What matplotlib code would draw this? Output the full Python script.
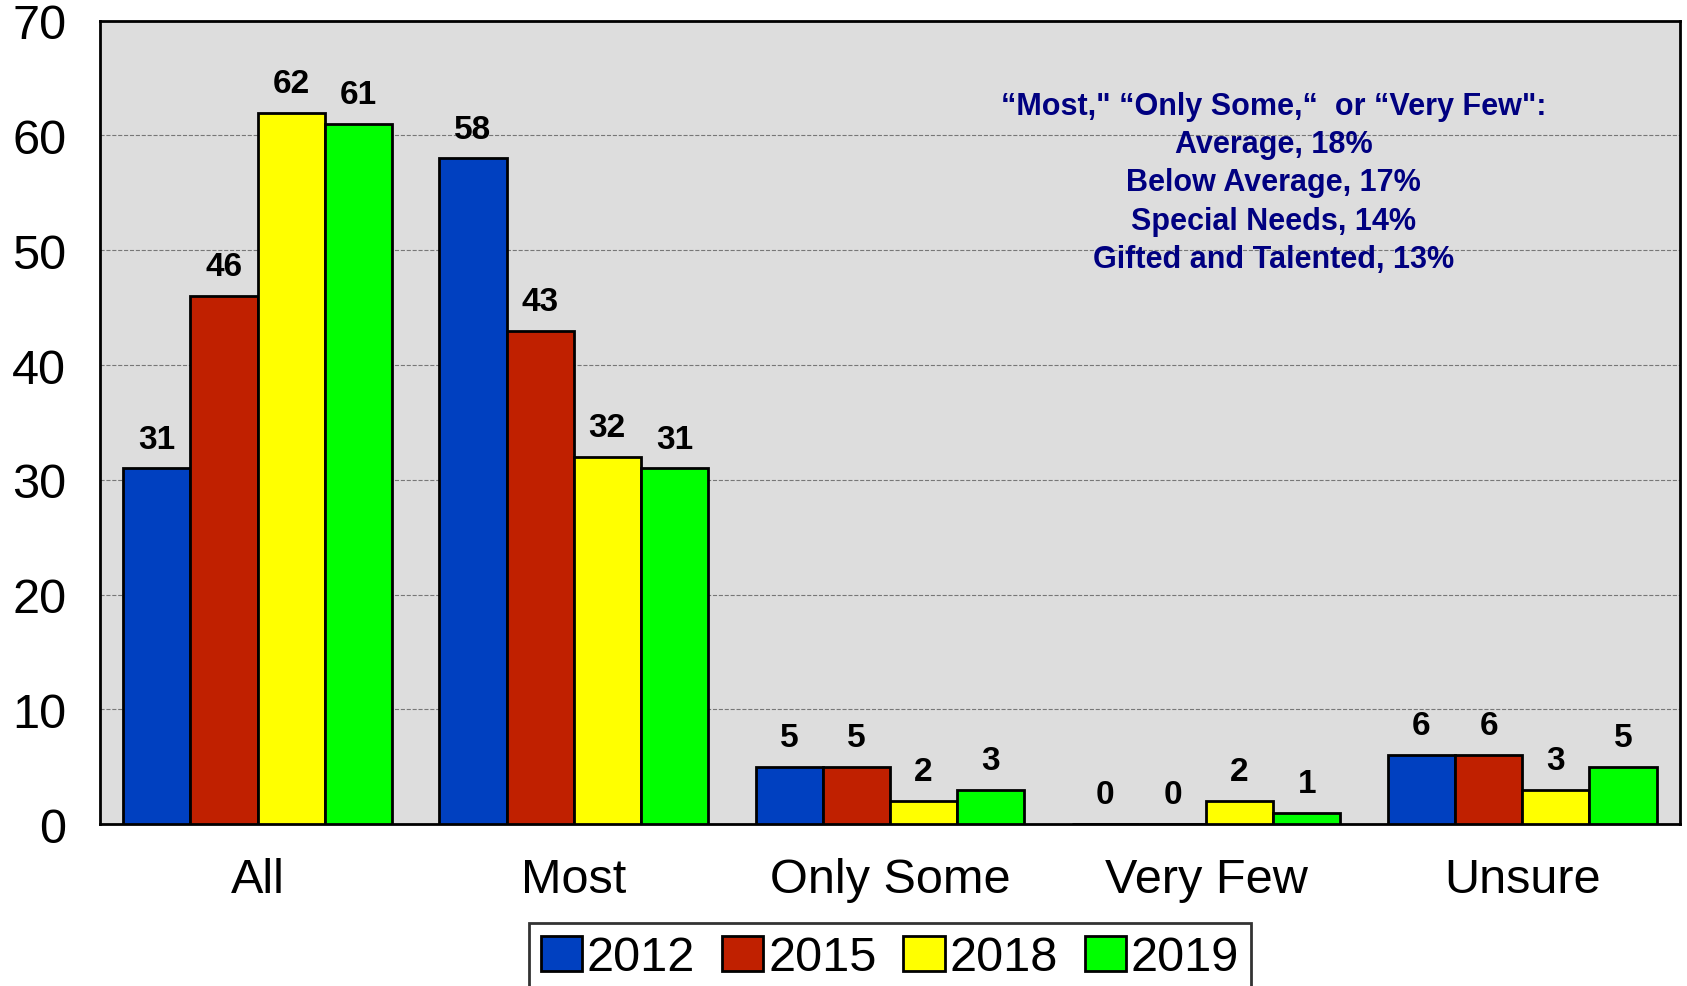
import matplotlib
matplotlib.use("Agg")
import matplotlib.pyplot as plt
import numpy as np

plt.rcParams['font.family'] = ['Liberation Sans', 'DejaVu Sans']

# data
categories = ["All", "Most", "Only Some", "Very Few", "Unsure"]
years = ["2012", "2015", "2018", "2019"]
v2012 = [31, 58, 5, 0, 6]
v2015 = [46, 43, 5, 0, 6]
v2018 = [62, 32, 2, 2, 3]
v2019 = [61, 31, 3, 1, 5]
series = [v2012, v2015, v2018, v2019]
colors = ["#0040C0", "#C02000", "#FFFF00", "#00FF00"]

note = ("\u201cMost,\" \u201cOnly Some,\u201c  or \u201cVery Few\":\n"
        "Average, 18%\nBelow Average, 17%\nSpecial Needs, 14%\nGifted and Talented, 13%")

fig = plt.figure(figsize=(16.87, 9.87), dpi=100)
ax = fig.add_axes([0.059, 0.164, 0.937, 0.814])
ax.set_facecolor("#DDDDDD")

x = np.arange(len(categories))
w = 0.2125
for i, (vals, c, yr) in enumerate(zip(series, colors, years)):
    pos = x + (i - 1.5) * w
    ax.bar(pos, vals, width=w, color=c, edgecolor="black", linewidth=2, label=yr, zorder=3)
    for xp, v in zip(pos, vals):
        ax.text(xp, v + 1.2, str(v), ha="center", va="bottom", fontsize=24,
                fontweight="bold", zorder=4)

ax.set_xlim(-0.5, 4.5)
ax.set_ylim(0, 70)
ax.set_yticks(range(0, 71, 10))
ax.yaxis.grid(True, linestyle="--", color="#777777", linewidth=0.8, zorder=0)
ax.set_xticks(x)
ax.set_xticklabels(categories)
ax.tick_params(axis="both", length=0, labelsize=35)
ax.tick_params(axis="y", pad=24)
ax.tick_params(axis="x", pad=24)
for s in ax.spines.values():
    s.set_linewidth(2)

# annotation in upper right
fig.text(0.755, 0.907, note, ha="center", va="top", fontsize=22, fontweight="bold",
         color="#000080", linespacing=1.36)

leg = ax.legend(loc="upper center", bbox_to_anchor=(0.5, -0.093), ncol=4, fontsize=35,
                frameon=True, fancybox=False, edgecolor="black", handlelength=0.85,
                handleheight=0.75, handletextpad=0.1, columnspacing=0.55, borderpad=0.25)
leg.get_frame().set_linewidth(2)

fig.savefig("out.png", dpi=100)
